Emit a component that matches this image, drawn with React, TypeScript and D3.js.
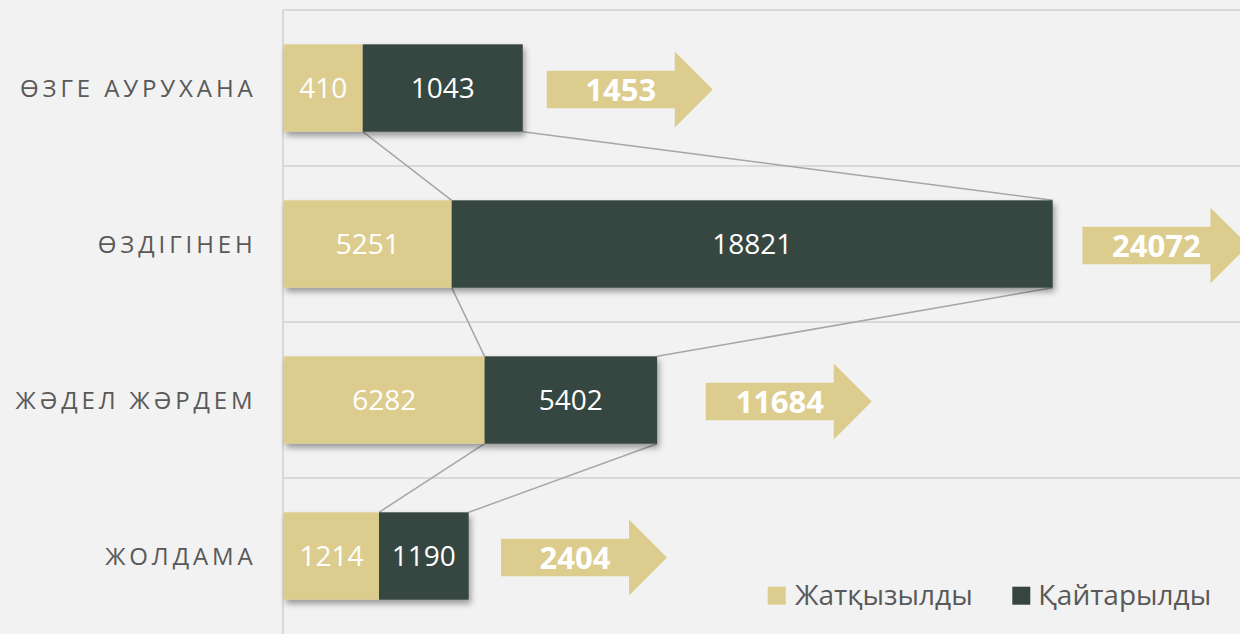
import React from "react";
import * as d3 from "d3";

const categories = ["ӨЗГЕ АУРУХАНА", "ӨЗДІГІНЕН", "ЖӘДЕЛ ЖӘРДЕМ", "ЖОЛДАМА"];
const seriesNames = ["Жатқызылды", "Қайтарылды"];
// label values
const admitted = [410, 5251, 6282, 1214];
const returned = [1043, 18821, 5402, 1190];
// bar lengths as drawn in the picture (data units)
const admittedLength = [2465, 5251, 6282, 2975];
const returnedLength = [5011, 18821, 5402, 2809];
// where each total arrow starts (data units)
const arrowStart = [8228, 25002, 13207, 6796];

const W = 1240;
const H = 634;
const LIGHT = "#DCCD8F";
const DARK = "#36463F";
const BG = "#F2F2F2";
const GRID = "#D9D9D9";
const TEXT = "#595959";
const FONT = "'Open Sans', sans-serif";

export default function App() {
  const totals = admitted.map((a, i) => a + returned[i]);
  const x = d3.scaleLinear().domain([0, 24072]).range([284, 1052.7]);
  const y = d3.scaleBand<string>().domain(categories).range([10, 634]).padding(0);
  const barH = y.bandwidth() * 0.56;
  const cy = (c: string) => (y(c) as number) + y.bandwidth() / 2;
  const top = (c: string) => cy(c) - barH / 2;
  const bot = (c: string) => cy(c) + barH / 2;

  const arrowLen = 166;
  const headLen = 38;
  const bodyHalf = 18.7;
  const headHalf = 38;
  const arrowPath = (x0: number, yc: number) => {
    const p = d3.path();
    p.moveTo(x0, yc - bodyHalf);
    p.lineTo(x0 + arrowLen - headLen, yc - bodyHalf);
    p.lineTo(x0 + arrowLen - headLen, yc - headHalf);
    p.lineTo(x0 + arrowLen, yc);
    p.lineTo(x0 + arrowLen - headLen, yc + headHalf);
    p.lineTo(x0 + arrowLen - headLen, yc + bodyHalf);
    p.lineTo(x0, yc + bodyHalf);
    p.closePath();
    return p.toString();
  };

  const connectors: { x1: number; y1: number; x2: number; y2: number }[] = [];
  for (let i = 0; i < categories.length - 1; i++) {
    const c0 = categories[i];
    const c1 = categories[i + 1];
    connectors.push({ x1: x(admittedLength[i]), y1: bot(c0), x2: x(admittedLength[i + 1]), y2: top(c1) });
    connectors.push({
      x1: x(admittedLength[i] + returnedLength[i]),
      y1: bot(c0),
      x2: x(admittedLength[i + 1] + returnedLength[i + 1]),
      y2: top(c1),
    });
  }

  const ls = 3.9;

  return (
    <div style={{ position: "fixed", left: 0, top: 0, width: W, height: H, background: BG }}>
      <svg width={W} height={H} style={{ display: "block" }}>
        <defs>
          <filter id="sh" x="-10%" y="-20%" width="130%" height="150%">
            <feDropShadow dx="2" dy="4" stdDeviation="3" floodColor="#000" floodOpacity="0.38" />
          </filter>
        </defs>
        <rect x={0} y={0} width={W} height={H} fill={BG} />
        {categories.map((c) => (
          <line key={"g" + c} x1={283} x2={W} y1={y(c)} y2={y(c)} stroke={GRID} strokeWidth={2} />
        ))}
        <line x1={283} x2={283} y1={10} y2={H} stroke={GRID} strokeWidth={2} />

        {connectors.map((l, i) => (
          <line key={"c" + i} x1={l.x1} y1={l.y1} x2={l.x2} y2={l.y2} stroke="#A6A6A6" strokeWidth={1.5} />
        ))}

        {categories.map((c, i) => (
          <g key={"b" + c} filter="url(#sh)">
            <rect x={x(0)} y={top(c)} width={x(admittedLength[i]) - x(0)} height={barH} fill={LIGHT} />
            <rect
              x={x(admittedLength[i])}
              y={top(c)}
              width={x(admittedLength[i] + returnedLength[i]) - x(admittedLength[i])}
              height={barH}
              fill={DARK}
            />
          </g>
        ))}

        {categories.map((c, i) => (
          <g key={"l" + c} fontFamily={FONT} fontSize={28} fill="#FFFFFF" textAnchor="middle">
            <text x={(x(0) + x(admittedLength[i])) / 2} y={cy(c)} dy="0.36em">
              {admitted[i]}
            </text>
            <text
              x={(x(admittedLength[i]) + x(admittedLength[i] + returnedLength[i])) / 2}
              y={cy(c)}
              dy="0.36em"
            >
              {returned[i]}
            </text>
          </g>
        ))}

        {categories.map((c, i) => (
          <g key={"a" + c}>
            <path d={arrowPath(x(arrowStart[i]), cy(c) + 1.5)} fill={LIGHT} />
            <text
              x={x(arrowStart[i]) + 74}
              y={cy(c) + 1.5}
              dy="0.36em"
              textAnchor="middle"
              fontFamily={FONT}
              fontWeight={700}
              fontSize={31}
              fill="#FFFFFF"
            >
              {totals[i]}
            </text>
          </g>
        ))}

        {categories.map((c) => (
          <text
            key={"t" + c}
            x={252.7 + ls}
            y={cy(c)}
            dy="0.36em"
            textAnchor="end"
            fontFamily={FONT}
            fontSize={24}
            letterSpacing={ls}
            fill={TEXT}
          >
            {c}
          </text>
        ))}

        <g fontFamily={FONT} fontSize={28} fill={TEXT}>
          <rect x={767.7} y={586.7} width={18} height={18} fill={LIGHT} />
          <text x={795} y={605}>{seriesNames[0]}</text>
          <rect x={1012.3} y={586.7} width={18} height={18} fill={DARK} />
          <text x={1038.3} y={605}>{seriesNames[1]}</text>
        </g>
      </svg>
    </div>
  );
}
